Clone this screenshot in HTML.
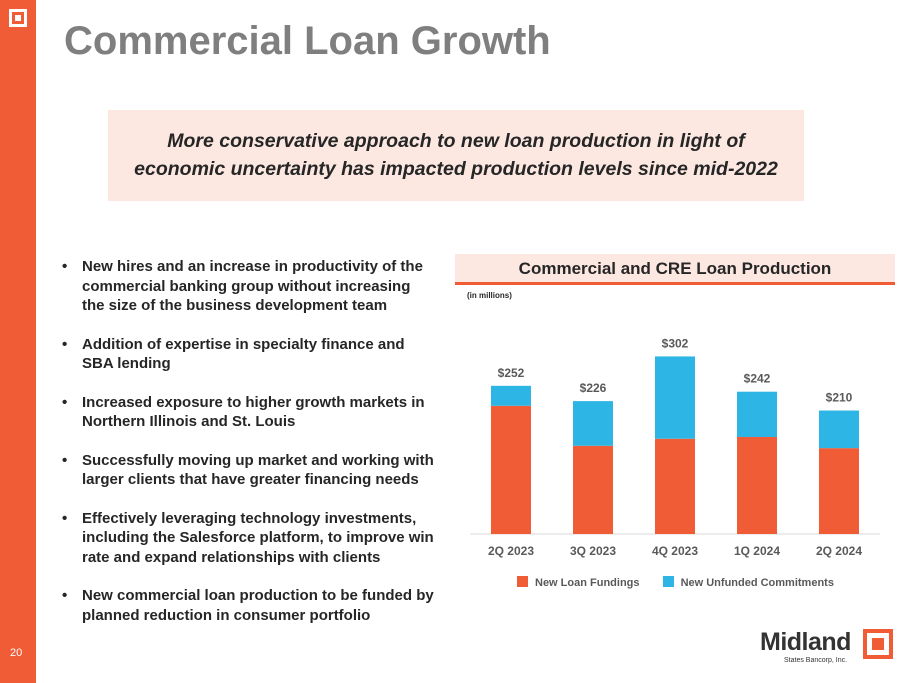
<!DOCTYPE html>
<html><head><meta charset="utf-8"><style>
body{margin:0;width:911px;height:683px;position:relative;background:#fff;font-family:"Liberation Sans",sans-serif;overflow:hidden}
.a{position:absolute}
ul{margin:0;padding:0;list-style:none}
li{position:relative;padding-left:22px;font-size:15px;font-weight:bold;color:#262626;line-height:19.5px;margin-bottom:19px}
li:before{content:"•";position:absolute;left:2px;top:0}
</style></head><body>
<div class="a" style="left:0;top:0;width:36px;height:683px;background:#ef5c36"></div>
<div class="a" style="left:9px;top:9px;width:12px;height:12px;border:3px solid #fff"><div style="margin:3px;width:6px;height:6px;background:#fff"></div></div>
<div class="a" style="left:10px;top:647px;font-size:11px;color:#fff">20</div>
<div class="a" style="left:64px;top:19px;font-size:40px;font-weight:bold;color:#7f7f7f">Commercial Loan Growth</div>
<div class="a" style="left:108px;top:110px;width:696px;height:91px;background:#fce8e1;text-align:center;font-style:italic;font-weight:bold;font-size:19.5px;color:#262626;line-height:28px;box-sizing:border-box;padding-top:17px">More conservative approach to new loan production in light of<br>economic uncertainty has impacted production levels since mid-2022</div>
<ul class="a" style="left:60px;top:257px;width:375px">
<li>New hires and an increase in productivity of the commercial banking group without increasing the size of the business development team</li>
<li>Addition of expertise in specialty finance and SBA lending</li>
<li>Increased exposure to higher growth markets in Northern Illinois and St. Louis</li>
<li>Successfully moving up market and working with larger clients that have greater financing needs</li>
<li>Effectively leveraging technology investments, including the Salesforce platform, to improve win rate and expand relationships with clients</li>
<li>New commercial loan production to be funded by planned reduction in consumer portfolio</li>
</ul>
<div class="a" style="left:455px;top:254px;width:440px;height:28px;background:#fce8e1;border-bottom:3px solid #ef5c36;text-align:center;font-size:17px;font-weight:bold;color:#262626;line-height:30px">Commercial and CRE Loan Production</div>
<div class="a" style="left:467px;top:291px;font-size:8px;font-weight:bold;color:#262626">(in millions)</div>
<svg class="a" id="chart" style="left:0;top:0" width="911" height="683"></svg>
<div class="a" style="left:517px;top:576px;font-size:11px;font-weight:bold;color:#595959">
<span><span style="display:inline-block;width:11px;height:11px;background:#ef5c36;vertical-align:-1px;margin-right:7px"></span>New Loan Fundings</span>
<span style="margin-left:20px"><span style="display:inline-block;width:11px;height:11px;background:#2db5e6;vertical-align:-1px;margin-right:7px"></span>New Unfunded Commitments</span>
</div>
<div class="a" style="left:760px;top:628px;width:140px;height:40px">
<div style="position:absolute;left:0;top:0;font-size:25px;font-weight:bold;color:#333;letter-spacing:-0.5px">Midland</div>
<div style="position:absolute;left:24px;top:29px;font-size:7px;color:#333">States Bancorp, Inc.</div>
<div style="position:absolute;left:103px;top:1px;width:22px;height:22px;border:4px solid #ef5c36"><div style="margin:5px;width:12px;height:12px;background:#ef5c36"></div></div>
</div>
<script>
const categories=["2Q 2023","3Q 2023","4Q 2023","1Q 2024","2Q 2024"];
const fundings=[218,150,162,165,146];
const unfunded=[34,76,140,77,64];
const totals=["$252","$226","$302","$242","$210"];
const svg=document.getElementById('chart');const NS="http://www.w3.org/2000/svg";
const base=534,scale=0.588,x0=470,step=82;
const xc=i=>x0+step*(i+0.5);
const y=v=>base-v*scale;
function mk(t,a){const e=document.createElementNS(NS,t);for(const k in a)e.setAttribute(k,a[k]);svg.appendChild(e);return e;}
const ax=mk('line',{x1:x0,x2:x0+step*5,y1:base,y2:base,stroke:'#d9d9d9','stroke-width':1});


categories.forEach((c,i)=>{
 const b1=mk('rect',{x:xc(i)-20,y:y(fundings[i]),width:40,height:fundings[i]*scale,fill:'#ef5c36'});
 
 
 const tot=fundings[i]+unfunded[i];
 const b2=mk('rect',{x:xc(i)-20,y:y(tot),width:40,height:unfunded[i]*scale,fill:'#2db5e6'});
 
 
 const l=mk('text',{x:xc(i),y:y(tot)-9,'text-anchor':'middle','font-size':12,'font-weight':'bold',fill:'#595959','font-family':'Liberation Sans'});
 l.textContent=totals[i];
 
 
 const t=mk('text',{x:xc(i),y:555,'text-anchor':'middle','font-size':12,'font-weight':'bold',fill:'#595959','font-family':'Liberation Sans'});
 t.textContent=c;
 
 
});
</script>
</body></html>
